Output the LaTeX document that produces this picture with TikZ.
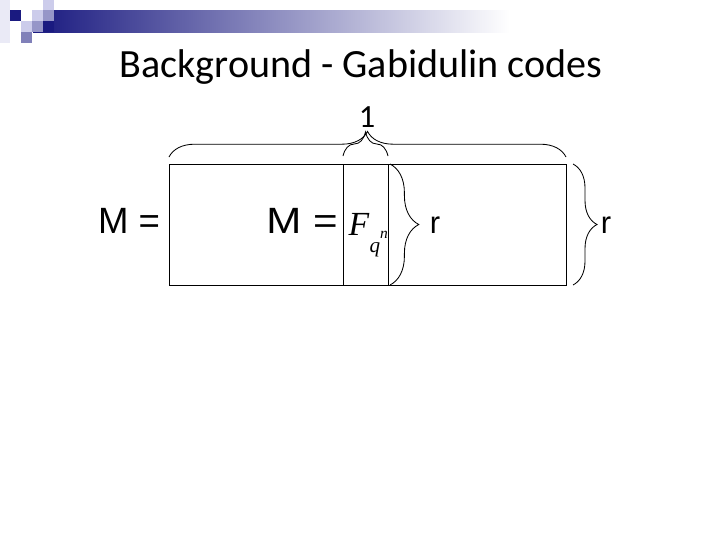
\documentclass[tikz,border=0pt]{standalone}
\usepackage{fontspec}
\setmainfont{Carlito}
\newfontfamily\arialfont{Liberation Sans}
\newfontfamily\timesfont{Liberation Serif}
\usetikzlibrary{decorations.pathreplacing}

\definecolor{navy}{RGB}{26,26,128}
\definecolor{lavlight}{RGB}{204,204,235}
\definecolor{lavmid}{RGB}{150,150,200}
\definecolor{lavdark}{RGB}{128,128,185}
\definecolor{lavpale}{RGB}{234,234,246}

\begin{document}
\begin{tikzpicture}[x=0.025cm, y=-0.025cm,
    curly/.style={decorate, decoration={brace, amplitude=#1}, line width=0.6pt},
    eqtext/.style={font=\arialfont\fontsize{26}{30}\selectfont, inner sep=0pt},
    rtext/.style={font=\arialfont\fontsize{22}{26}\selectfont, inner sep=0pt}]
        \useasboundingbox (0,0) rectangle (720,540);

        % Header bar
        \shade[left color=navy, right color=white] (33,10) rectangle (510,32);
        \fill[lavpale] (0,0) rectangle (10,43);
        \fill[navy] (10,10) rectangle (21,21);
        \fill[lavlight] (32,10) rectangle (43,21);
        \fill[lavlight] (43,0) rectangle (54,10);
        \fill[lavmid] (43,10) rectangle (54,21);
        \fill[navy] (43,21) rectangle (54,32);
        \fill[lavlight] (21,21) rectangle (32,32);
        \fill[lavmid] (32,21) rectangle (43,32);
        \fill[lavdark] (21,32) rectangle (32,43);

        % Title
        \node[font=\fontsize{28.5}{32}\selectfont, anchor=base, inner sep=0pt] (title) at (361,77) {Background - Gabidulin codes};

        \coordinate (TL) at (169,164);
        \coordinate (BR) at (566,285);
        \coordinate (CL) at (343,164);
        \coordinate (CR) at (388,164);

        % Matrix and its column
        \draw[line width=0.7pt] (TL) rectangle (BR);
        \draw[line width=0.7pt] (CL) -- (CL |- BR);
        \draw[line width=0.7pt] (CR) -- (CR |- BR);

        % Texts
        \node[eqtext, anchor=base] (Mleft) at (129,233) {M =};
        \node[eqtext, anchor=base] (Mcol) at (302,233) {\scalebox{1.15}[1]{M =}};
        \node[font=\timesfont\itshape\fontsize{24}{28}\selectfont, anchor=base, inner sep=0pt] (F) at (359,235) {F};
        \node[font=\timesfont\itshape\fontsize{15}{18}\selectfont, anchor=base, inner sep=0pt] (q) at (375,252) {q};
        \node[font=\timesfont\itshape\fontsize{11}{13}\selectfont, anchor=base, inner sep=0pt] (n) at (384,238) {n};

        % Braces
        \coordinate (bigL) at (169,157);
        \coordinate (bigR) at (566,157);
        \coordinate (oneL) at (343,156);
        \coordinate (oneR) at (388,156);
        \coordinate (inT) at (390,164);
        \coordinate (inB) at (390,285);
        \coordinate (outT) at (573,164);
        \coordinate (outB) at (573,285);
        \draw[curly=0.64cm] (bigL) -- (bigR);
        \draw[curly=0.6cm] (oneL) -- (oneR);
        \draw[curly=0.72cm] (inT) -- (inB);
        \draw[curly=0.6cm] (outT) -- (outB);

        \node[font=\fontsize{23}{26}\selectfont, inner sep=0pt] (one) at (367,117) {1};
        \node[rtext] (rin) at (435,225) {r};
        \node[rtext] (rout) at (606,225) {r};
    \end{tikzpicture}
\end{document}
